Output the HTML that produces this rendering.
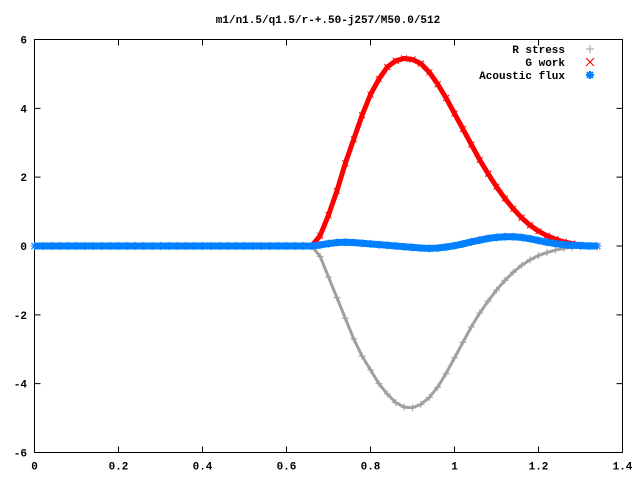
<!DOCTYPE html>
<html><head><meta charset="utf-8"><style>
body{margin:0;background:#fff}
svg{display:block;font-family:"Liberation Mono",monospace;font-size:11px;font-weight:bold}
</style></head><body>
<svg id="chart" width="640" height="480" xmlns="http://www.w3.org/2000/svg">
<text x="328" y="23" text-anchor="middle">m1/n1.5/q1.5/r-+.50-j257/M50.0/512</text>
<g id="grid"></g>
<g id="series"></g>
<g id="legend"></g>
</svg>
<script>
const xs=[0,0.02,0.04,0.06,0.08,0.1,0.12,0.14,0.16,0.18,0.2,0.22,0.24,0.26,0.28,0.3,0.32,0.34,0.36,0.38,0.4,0.42,0.44,0.46,0.48,0.5,0.52,0.54,0.56,0.58,0.6,0.62,0.64,
0.66,0.68,0.70,0.72,0.74,0.76,0.78,0.80,0.82,0.84,0.86,0.88,0.90,0.92,0.94,0.96,0.98,1.00,1.02,1.04,1.06,1.08,1.10,1.12,1.14,1.16,1.18,1.20,1.22,1.24,1.26,1.28,1.30,1.32,1.34];
const zeros33=[0,0,0,0,0,0,0,0,0,0,0,0,0,0,0,0,0,0,0,0,0,0,0,0,0,0,0,0,0,0,0,0,0];
const gWork=zeros33.concat([0,0.3,0.9,1.6,2.4,3.1,3.8,4.4,4.85,5.2,5.38,5.45,5.42,5.3,5.05,4.7,4.3,3.85,3.4,2.95,2.5,2.1,1.72,1.38,1.08,0.82,0.6,0.43,0.3,0.2,0.12,0.07,0.03,0.01,0]);
const rStress=zeros33.concat([0,-0.3,-0.9,-1.5,-2.1,-2.7,-3.2,-3.6,-4.0,-4.3,-4.55,-4.68,-4.7,-4.6,-4.4,-4.1,-3.7,-3.25,-2.8,-2.35,-1.95,-1.6,-1.28,-1.0,-0.76,-0.56,-0.4,-0.28,-0.19,-0.12,-0.07,-0.04,-0.02,-0.01,0]);
const flux=zeros33.concat([0,0.03,0.07,0.1,0.11,0.1,0.08,0.06,0.04,0.02,0,-0.02,-0.04,-0.06,-0.07,-0.06,-0.03,0.01,0.06,0.12,0.17,0.22,0.25,0.27,0.27,0.25,0.21,0.16,0.11,0.07,0.04,0.02,0.01,0,0]);
const xTicks=[0,0.2,0.4,0.6,0.8,1,1.2,1.4];
const xTickLabels=["0","0.2","0.4","0.6","0.8","1","1.2","1.4"];
const yTicks=[-6,-4,-2,0,2,4,6];
const yTickLabels=["-6","-4","-2","0","2","4","6"];
const L=34.5,R=622.5,T=39.5,B=452.5;
const sx=v=>L+(v-0)/1.4*(R-L);
const sy=v=>B-(v+6)/12*(B-T);
const NS="http://www.w3.org/2000/svg";
function mk(tag,attrs,parent){const e=document.createElementNS(NS,tag);for(const k in attrs)e.setAttribute(k,attrs[k]);parent.appendChild(e);return e;}
const g=document.getElementById('grid');
const fr=mk('rect',{x:L,y:T,width:R-L,height:B-T,fill:'none',stroke:'#000','stroke-width':1},g);


xTicks.forEach((v,i)=>{
  const x=sx(v);
  const t=mk('path',{d:`M${x},${B}v-6M${x},${T}v6`,stroke:'#000'},g);
  
  
  const l=mk('text',{x:x,y:B+17,'text-anchor':'middle'},g);l.textContent=xTickLabels[i];
  
  
});
yTicks.forEach((v,i)=>{
  const y=sy(v);
  const t=mk('path',{d:`M${L},${y}h6M${R},${y}h-6`,stroke:'#000'},g);
  
  
  const l=mk('text',{x:27,y:y+4,'text-anchor':'end'},g);l.textContent=yTickLabels[i];
  
  
});
const s=document.getElementById('series');
function series(vals,color,w,name,mark){
  const pts=xs.map((x,i)=>sx(x)+','+sy(vals[i])).join(' ');
  const pl=mk('polyline',{points:pts,fill:'none',stroke:color,'stroke-width':w,'stroke-linejoin':'round'},s);
  
  
  xs.forEach((x,i)=>{
    const cx=sx(x),cy=sy(vals[i]);
    const d=mark==='x'?`M${cx-3},${cy-3}l6,6M${cx-3},${cy+3}l6,-6`:mark==='+'?`M${cx-3.5},${cy}h7M${cx},${cy-3.5}v7`:`M${cx-4},${cy}h8M${cx},${cy-4}v8M${cx-3},${cy-3}l6,6M${cx-3},${cy+3}l6,-6`;
    const p=mk('path',{d:d,stroke:color,'stroke-width':1},s);
    
    
  });
}
series(rStress,'#a0a0a0',3,'r-stress','+');
series(gWork,'#ff0000',5,'g-work','x');
series(flux,'#0080ff',7,'acoustic-flux','*');
const lg=document.getElementById('legend');
[["R stress",'#a0a0a0','+'],["G work",'#ff0000','x'],["Acoustic flux",'#0080ff','*']].forEach((e,i)=>{
  const y=49+i*13;
  const t=mk('text',{x:565,y:y+4,'text-anchor':'end'},lg);t.textContent=e[0];
  
  
  const cx=590;
  const d=e[2]==='x'?`M${cx-4},${y-4}l8,8M${cx-4},${y+4}l8,-8`:e[2]==='+'?`M${cx-4},${y}h8M${cx},${y-4}v8`:`M${cx-4},${y}h8M${cx},${y-4}v8M${cx-3},${y-3}l6,6M${cx-3},${y+3}l6,-6`;
  const p=mk('path',{d:d,stroke:e[1],'stroke-width':e[2]==='*'?2:1},lg);
  
  
});
</script>
</body></html>
